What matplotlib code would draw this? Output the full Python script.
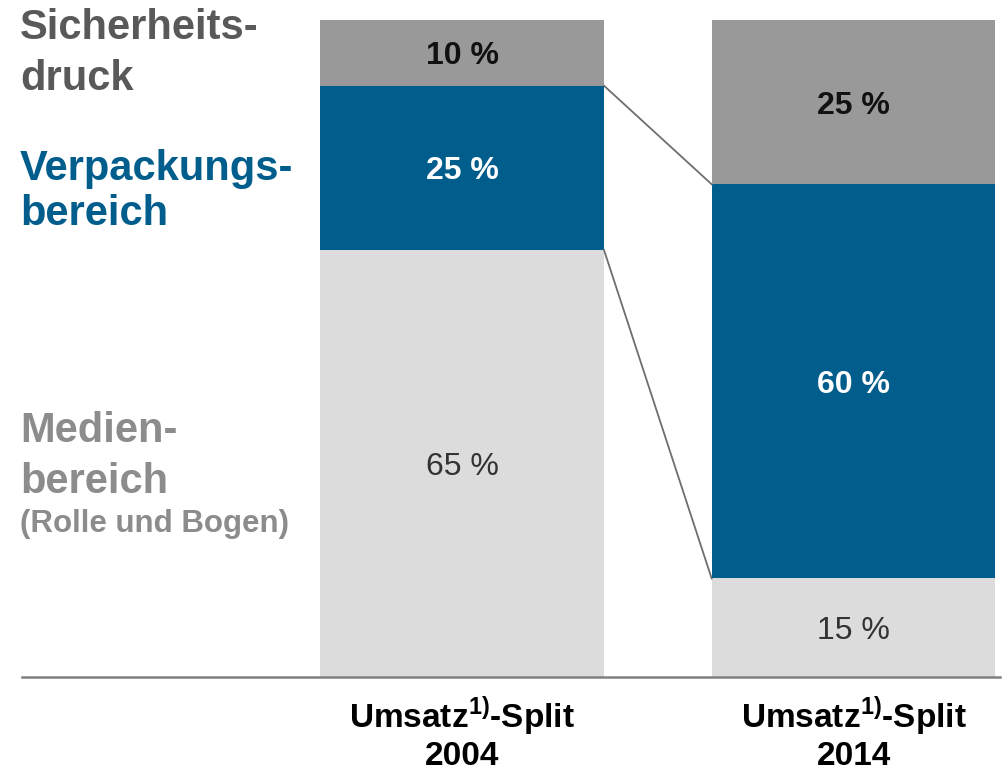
import matplotlib
matplotlib.use('Agg')
import matplotlib.pyplot as plt
import numpy as np

plt.rcParams['font.family'] = ['Liberation Sans', 'DejaVu Sans']
plt.rcParams['mathtext.fontset'] = 'custom'
plt.rcParams['mathtext.rm'] = 'Liberation Sans'
plt.rcParams['mathtext.bf'] = 'Liberation Sans:bold'

# data
years = ['2004', '2014']
medien = [65, 15]
verpackung = [25, 60]
sicherheit = [10, 25]

c_sich = '#999999'
c_verp = '#005d8c'
c_med = '#dcdcdc'

W, H = 1002, 772
fig = plt.figure(figsize=(W / 100, H / 100), dpi=100)
# axes: baseline from x=22..1000 px, y 0% at 677 px, 100% at 20 px
ax = fig.add_axes([22 / W, (H - 677) / H, 978 / W, 657 / H])

x = np.arange(len(years))
w = 0.725
ax.bar(x, medien, w, color=c_med, zorder=2)
ax.bar(x, verpackung, w, bottom=medien, color=c_verp, zorder=2)
bot2 = np.array(medien) + np.array(verpackung)
ax.bar(x, sicherheit, w, bottom=bot2, color=c_sich, zorder=2)

# connector lines between the bars
ax.plot([x[0] + w / 2, x[1] - w / 2], [bot2[0], bot2[1]], color='#6e6e6e', lw=1.3, zorder=3)
ax.plot([x[0] + w / 2, x[1] - w / 2], [medien[0], medien[1]], color='#6e6e6e', lw=1.3, zorder=3)

# value labels, baseline placed half a digit height below the segment centre
def val(xi, yc, txt, **kw):
    ax.annotate(txt, (xi, yc), xytext=(0, -8.3), textcoords='offset points',
                ha='center', va='baseline', fontsize=23, **kw)

for i in range(len(years)):
    val(x[i], medien[i] / 2, f'{medien[i]} %', color='#333333')
    val(x[i], medien[i] + verpackung[i] / 2, f'{verpackung[i]} %', color='white', fontweight='bold')
    val(x[i], bot2[i] + sicherheit[i] / 2, f'{sicherheit[i]} %', color='#111111', fontweight='bold')

ax.set_xlim(-1.124, 1.374)
ax.set_ylim(0, 100)
ax.set_xticks([])
ax.set_yticks([])
for s in ['top', 'left', 'right']:
    ax.spines[s].set_visible(False)
ax.spines['bottom'].set_color('#808080')
ax.spines['bottom'].set_linewidth(1.8)
ax.patch.set_visible(False)

# x labels
for i, yr in enumerate(years):
    ax.text(x[i], -7.7, r'Umsatz$^{\mathbf{1)}}$-Split', ha='center', va='baseline',
            fontsize=24, fontweight='bold', color='black', clip_on=False)
    ax.text(x[i], -13.4, yr, ha='center', va='baseline',
            fontsize=24, fontweight='bold', color='black', clip_on=False)

# category labels on the left
def lbl(txt, ypx, color, size=30):
    fig.text(20 / W, 1 - ypx / H, txt, ha='left', va='baseline', fontsize=size,
             fontweight='bold', color=color)

lbl('Sicherheits-', 39, '#595959')
lbl('druck', 90, '#595959')
lbl('Verpackungs-', 180, c_verp)
lbl('bereich', 225, c_verp)
lbl('Medien-', 442, '#8c8c8c')
lbl('bereich', 493, '#8c8c8c')
lbl('(Rolle und Bogen)', 532, '#8c8c8c', size=22.5)

fig.savefig('out.png', dpi=100)
